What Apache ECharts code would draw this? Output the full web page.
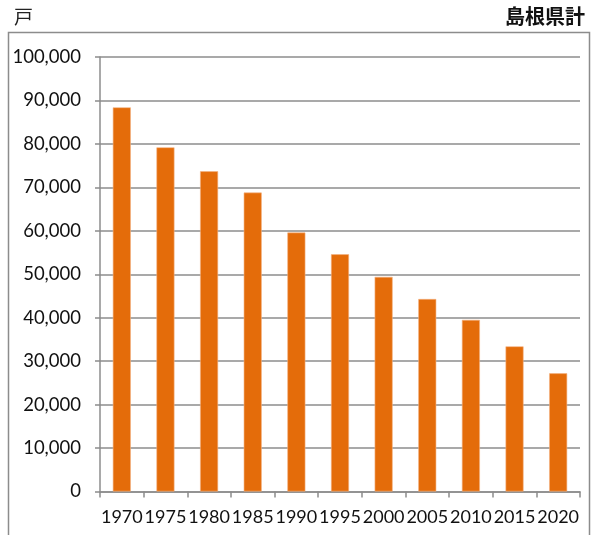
<!DOCTYPE html>
<html><head><meta charset="utf-8">
<script src="https://cdn.jsdelivr.net/npm/echarts@6/dist/echarts.min.js"></script>
<style>html,body{margin:0;padding:0;background:#fff}#c{width:596px;height:535px}</style>
</head><body><div id="c"></div>
<script>
const categories = ['1970','1975','1980','1985','1990','1995','2000','2005','2010','2015','2020'];
const households = [88400, 79200, 73700, 68800, 59600, 54600, 49400, 44300, 39500, 33400, 27200];
const unitLabel = '戸';
const regionLabel = '島根県計';

const chart = echarts.init(document.getElementById('c'), null, {renderer:'canvas'});
const font = 'Lato, "Noto Sans CJK JP", sans-serif';
chart.setOption({
  animation:false,
  graphic:[
    {type:'rect', shape:{x:8.5,y:32.5,width:581,height:520}, style:{fill:'none',stroke:'#8c8c8c',lineWidth:1.5}, silent:true},
    {type:'text', left:14, top:7, style:{text:unitLabel, font:'19px "Noto Sans CJK JP"', fill:'#222'}},
    {type:'text', right:11, top:6, style:{text:regionLabel, font:'bold 20px "Noto Sans CJK JP"', fill:'#111'}}
  ],
  grid:{left:100, right:16, top:57, bottom:43.5, containLabel:false},
  xAxis:{
    type:'category', data:categories,
    axisLine:{lineStyle:{color:'#8c8c8c', width:1.5}},
    axisTick:{show:true, alignWithLabel:false, length:6, lineStyle:{color:'#8c8c8c', width:1.5}},
    axisLabel:{fontFamily:font, fontSize:18, color:'#111', margin:16.5, interval:0}
  },
  yAxis:{
    type:'value', min:0, max:100000, interval:10000,
    axisLine:{show:true, lineStyle:{color:'#8c8c8c', width:1.5}},
    axisTick:{show:true, length:5, lineStyle:{color:'#8c8c8c', width:1.5}},
    splitLine:{show:true, lineStyle:{color:'#8c8c8c', width:1.5}},
    axisLabel:{fontFamily:font, fontSize:18.5, color:'#111', margin:19,
      formatter:v=>v.toLocaleString('en-US')}
  },
  series:[{
    type:'bar', data:households, barWidth:18,
    itemStyle:{color:'#E46C0A', borderColor:'#F4B183', borderWidth:0.6}
  }]
});
</script></body></html>
